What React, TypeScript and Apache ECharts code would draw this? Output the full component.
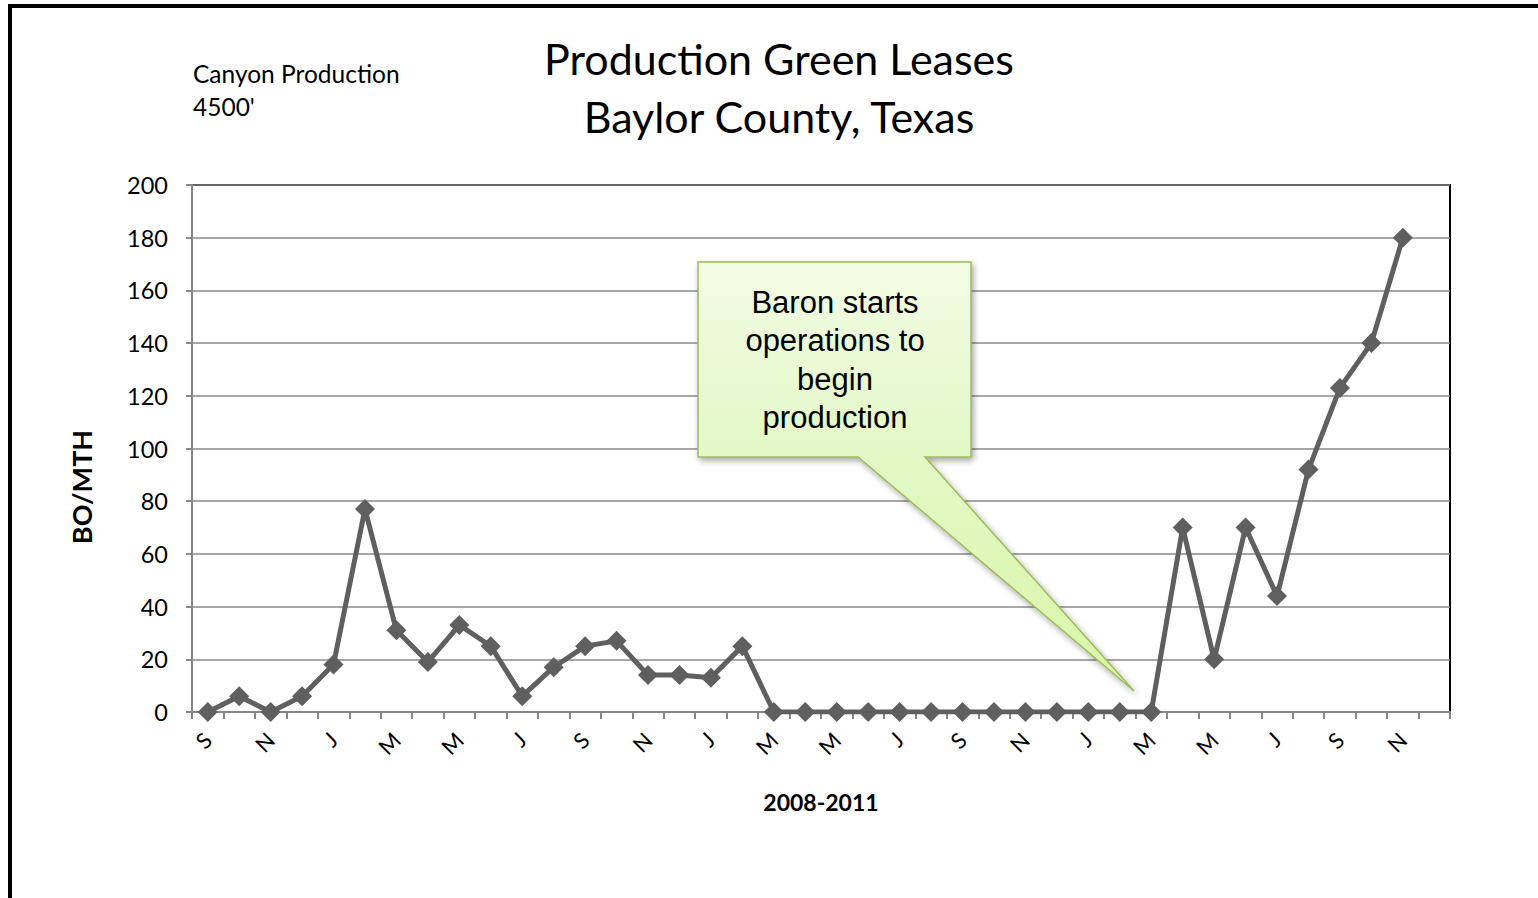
import React, { useEffect, useRef } from "react";
import * as echarts from "echarts";

const months: string[] = [
  "S", "O", "N", "D",
  "J", "F", "M", "A", "M", "J", "J", "A", "S", "O", "N", "D",
  "J", "F", "M", "A", "M", "J", "J", "A", "S", "O", "N", "D",
  "J", "F", "M", "A", "M", "J", "J", "A", "S", "O", "N", "D",
];

const production: number[] = [
  0, 6, 0, 6,
  18, 77, 31, 19, 33, 25, 6, 17, 25, 27, 14, 14,
  13, 25, 0, 0, 0, 0, 0, 0, 0, 0, 0, 0,
  0, 0, 0, 70, 20, 70, 44, 92, 123, 140, 180,
];

const titleLines: string[] = ["Production Green Leases", "Baylor County, Texas"];
const noteLines: string[] = ["Canyon Production", "4500'"];
const calloutLines: string[] = ["Baron starts", "operations to", "begin", "production"];
const yAxisTitle = "BO/MTH";
const xAxisTitle = "2008-2011";

export default function App() {
  const ref = useRef<HTMLDivElement>(null);

  useEffect(() => {
    if (!ref.current) return;
    const chart = echarts.init(ref.current, null, { renderer: "svg" });
    const font = "Lato, 'Open Sans', sans-serif";
    chart.setOption({
      animation: false,
      backgroundColor: "#ffffff",
      grid: {
        left: 192,
        top: 185,
        right: 88,
        bottom: 186,
        show: true,
        borderColor: "#000000",
        borderWidth: 2,
        backgroundColor: "transparent",
      },
      xAxis: {
        type: "category",
        data: months,
        boundaryGap: true,
        name: xAxisTitle,
        nameLocation: "middle",
        nameGap: 78,
        nameTextStyle: { fontFamily: font, fontSize: 23, fontWeight: "bold", color: "#000" },
        axisLine: { lineStyle: { color: "#868686", width: 2 } },
        axisTick: { show: true, interval: 0, length: 7, lineStyle: { color: "#868686", width: 2 } },
        axisLabel: {
          interval: 1,
          rotate: 45,
          margin: 24,
          fontFamily: font,
          fontSize: 22,
          color: "#000",
        },
        splitLine: { show: false },
      },
      yAxis: {
        type: "value",
        min: 0,
        max: 200,
        interval: 20,
        axisLine: { show: true, lineStyle: { color: "#868686", width: 2 } },
        axisTick: { show: true, length: 6, lineStyle: { color: "#868686", width: 2 } },
        axisLabel: { margin: 24, fontFamily: font, fontSize: 23.5, color: "#000" },
        splitLine: { show: true, lineStyle: { color: "#8a8a8a", width: 1.5 } },
      },
      series: [
        {
          type: "line",
          data: production,
          symbol: "diamond",
          symbolSize: [20, 20],
          showAllSymbol: true,
          lineStyle: { color: "#5f5f5f", width: 5 },
          itemStyle: { color: "#5f5f5f" },
          z: 3,
        },
      ],
      graphic: [
        {
          type: "polyline",
          shape: { points: [[10, 1000], [10, 6], [1600, 6]] },
          style: { stroke: "#000", lineWidth: 4, fill: null },
          silent: true,
        },
        {
          type: "text",
          x: 779,
          y: 29,
          style: {
            text: titleLines.join("\n"),
            align: "center",
            verticalAlign: "top",
            fontFamily: font,
            fontSize: 43,
            lineHeight: 58,
            fill: "#000",
          },
        },
        {
          type: "text",
          x: 193,
          y: 57,
          style: {
            text: noteLines.join("\n"),
            verticalAlign: "top",
            fontFamily: font,
            fontSize: 24.5,
            lineHeight: 33,
            fill: "#000",
          },
        },
        {
          type: "text",
          x: 81,
          y: 487,
          rotation: Math.PI / 2,
          style: {
            text: yAxisTitle,
            align: "center",
            verticalAlign: "middle",
            fontFamily: font,
            fontSize: 27,
            fontWeight: "bold",
            fill: "#000",
          },
        },
        {
          type: "polygon",
          shape: {
            points: [
              [698, 262], [971, 262], [971, 457], [925, 457],
              [1134, 691], [858, 457], [698, 457],
            ],
          },
          style: {
            fill: new echarts.graphic.LinearGradient(0, 0, 0, 1, [
              { offset: 0, color: "#f2fbe4" },
              { offset: 0.45, color: "#e3f8c6" },
              { offset: 1, color: "#d9f5a8" },
            ]),
            stroke: "#9bbb59",
            lineWidth: 1.5,
            shadowBlur: 6,
            shadowColor: "rgba(0,0,0,0.35)",
            shadowOffsetX: 2,
            shadowOffsetY: 3,
          },
          z: 10,
        },
        {
          type: "text",
          x: 835,
          y: 283,
          style: {
            text: calloutLines.join("\n"),
            align: "center",
            verticalAlign: "top",
            fontFamily: "'Liberation Sans', Arial, sans-serif",
            fontSize: 31,
            lineHeight: 38.5,
            fill: "#000",
          },
          z: 11,
        },
      ],
    });
    return () => chart.dispose();
  }, []);

  return (
    <div
      ref={ref}
      style={{ position: "fixed", left: 0, top: 0, width: 1538, height: 898 }}
    />
  );
}
